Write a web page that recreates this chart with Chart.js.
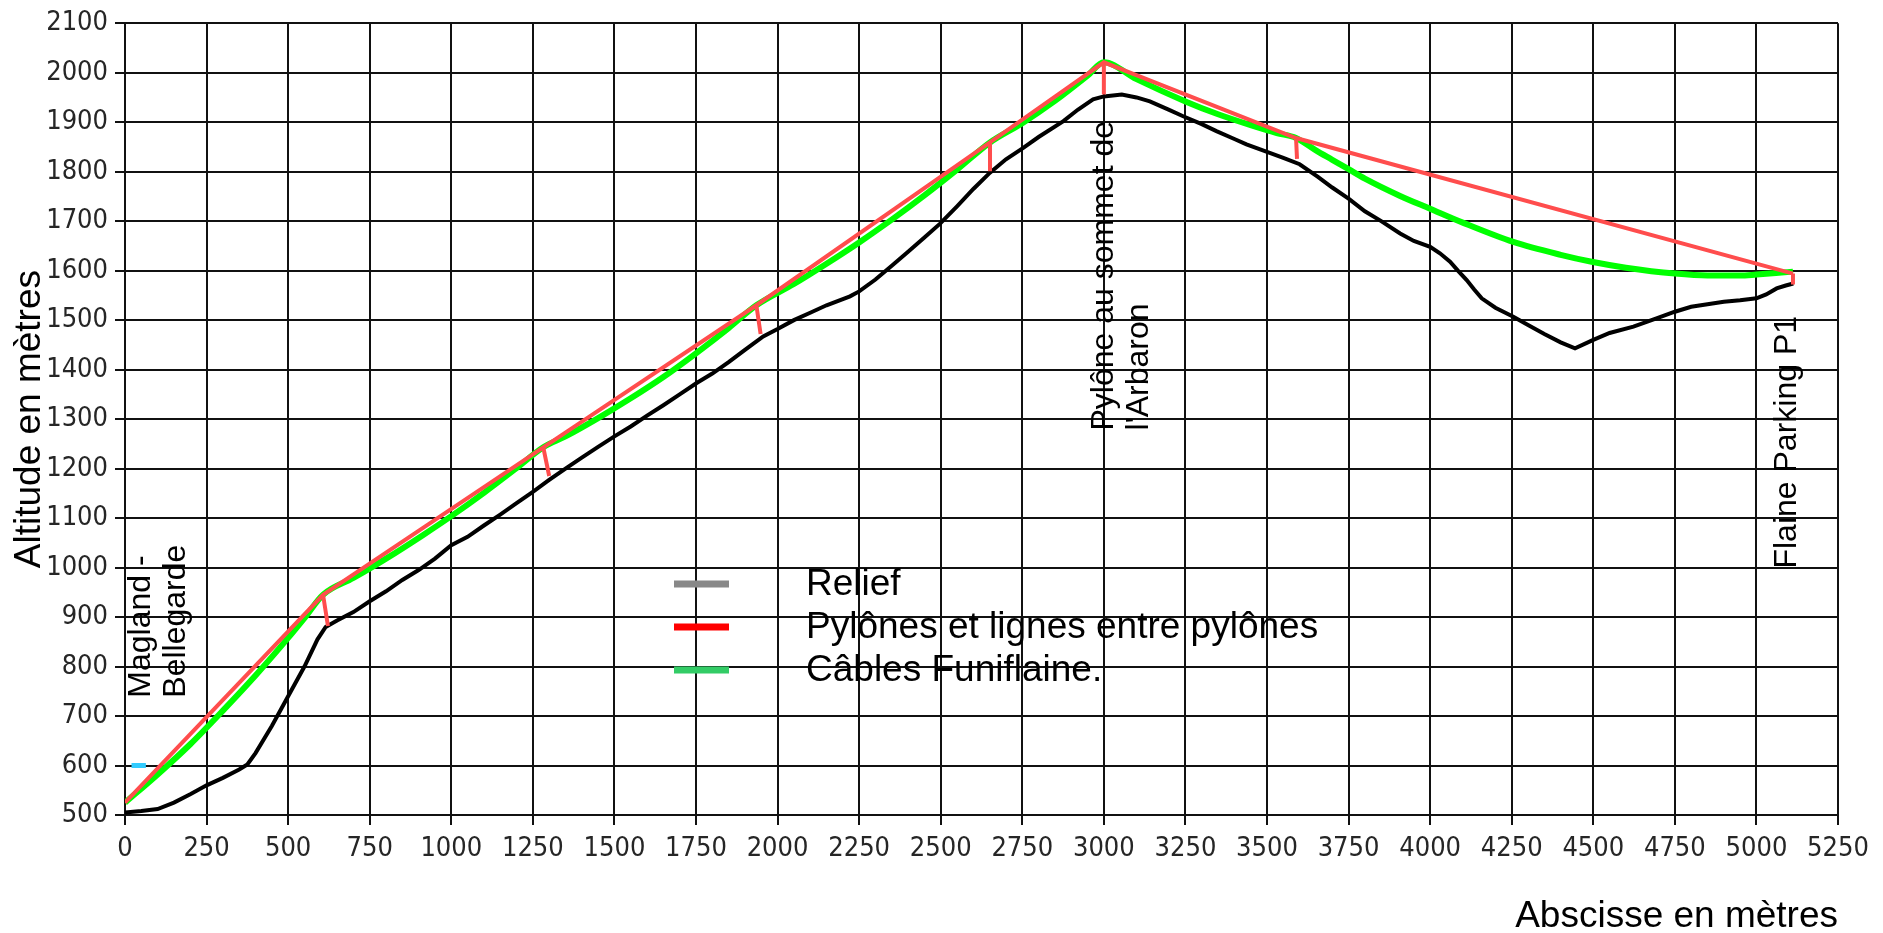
<!DOCTYPE html>
<html>
<head>
<meta charset="utf-8">
<script src="https://cdn.jsdelivr.net/npm/chart.js@4.4.1/dist/chart.umd.min.js"></script>
<style>
  html, body { margin: 0; padding: 0; background: #fff; }
  #wrap { width: 1883px; height: 933px; position: relative; }
</style>
</head>
<body>
<div id="wrap"><canvas id="profileChart"></canvas></div>
<script>
// Relief (ground profile), abscissa in metres / altitude in metres
const reliefX = [0, 50, 100, 150, 200, 250, 300, 350, 375, 400, 450, 500, 550, 590, 615, 650, 700, 750, 800, 850,
  900, 950, 1000, 1050, 1100, 1150, 1200, 1250, 1300, 1350, 1400, 1450, 1500, 1550, 1600, 1650, 1700, 1752, 1800, 1850,
  1900, 1956, 2000, 2050, 2100, 2150, 2222, 2250, 2300, 2350, 2400, 2450, 2498, 2550, 2600, 2651, 2700, 2753, 2800, 2876,
  2920, 2967, 3000, 3055, 3100, 3141, 3200, 3243, 3300, 3345, 3400, 3437, 3500, 3550, 3600, 3655, 3700, 3751, 3800, 3850,
  3908, 3950, 4000, 4030, 4061, 4085, 4112, 4135, 4158, 4200, 4255, 4300, 4350, 4400, 4444, 4500, 4550, 4623, 4700, 4750,
  4800, 4850, 4900, 4950, 5000, 5030, 5062, 5090, 5113];
const reliefAlt = [505, 508, 512, 525, 542, 560, 575, 592, 602, 625, 680, 740, 800, 855, 880, 893, 910, 932, 952, 975,
  995, 1018, 1045, 1062, 1085, 1107, 1130, 1153, 1177, 1200, 1222, 1244, 1265, 1285, 1307, 1328, 1350, 1373, 1392, 1415,
  1440, 1467, 1482, 1500, 1515, 1530, 1548, 1558, 1582, 1610, 1638, 1667, 1695, 1730, 1765, 1798, 1825, 1848, 1870, 1902,
  1925, 1946, 1952, 1956, 1950, 1942, 1925, 1912, 1896, 1882, 1866, 1855, 1840, 1828, 1815, 1790, 1768, 1745, 1720, 1700,
  1675, 1660, 1648, 1635, 1618, 1600, 1581, 1562, 1544, 1525, 1507, 1490, 1472, 1455, 1443, 1460, 1474, 1487, 1505, 1517,
  1527, 1532, 1537, 1540, 1544, 1552, 1564, 1570, 1574];

// Funiflaine cables (sagging between pylons)
const cableX = [0, 100, 200, 300, 400, 500, 550, 607, 700, 800, 914, 1000, 1100, 1200, 1282, 1350, 1450, 1550, 1650, 1750,
  1850, 1935, 2050, 2150, 2250, 2350, 2450, 2550, 2651, 2750, 2850, 2950, 3000, 3100, 3250, 3350, 3450, 3530, 3589, 3650,
  3700, 3750, 3800, 3908, 4000, 4100, 4255, 4400, 4495, 4600, 4750, 4850, 4950, 5000, 5060, 5112];
const cableAlt = [525, 582, 643, 711, 782, 858, 898, 945, 979, 1018, 1066, 1104, 1151, 1201, 1243, 1265, 1302, 1342, 1385, 1433,
  1484, 1530, 1573, 1614, 1657, 1703, 1752, 1804, 1859, 1898, 1943, 1994, 2021, 1987, 1942, 1916, 1894, 1878, 1868, 1843,
  1824, 1805, 1786, 1751, 1725, 1697, 1658, 1632, 1618, 1606, 1594, 1590, 1590, 1592, 1595, 1598];

// Pylon tops joined by straight lines, and pylon feet
const towerX = [0, 607, 1282, 1935, 2651, 3000, 3589, 5112];
const towerAlt = [525, 945, 1243, 1530, 1859, 2021, 1868, 1594];
const footX = [622, 1300, 1948, 2651, 3000, 3592, 5112];
const footAlt = [882, 1185, 1472, 1801, 1956, 1826, 1572];

// small cyan mark at the lower station
const stationX = [20, 64];
const stationAlt = [600, 600];

const legendLabels = ['Relief', 'Pylônes et lignes entre pylônes', 'Câbles Funiflaine.'];
const legendColors = ['#888888', '#ff0000', '#33cc66'];

const placeNames = [['Magland -', 'Bellegarde'], ['Pylône au sommet de', "l'Arbaron"], ['Flaine Parking P1']];
const placeX = [49, 3000, 5095];
const placeAlt = [737, 1277, 998];

const toPoints = (xs, ys) => xs.map((x, i) => ({ x: x, y: ys[i] }));

// pylon segments, separated by gaps
const pylonPoints = [];
footX.forEach((fx, i) => {
  pylonPoints.push({ x: towerX[i + 1], y: towerAlt[i + 1] });
  pylonPoints.push({ x: fx, y: footAlt[i] });
  pylonPoints.push({ x: fx, y: null });
});

const annotations = {
  id: 'annotations',
  afterDraw(chart) {
    const ctx = chart.ctx;
    const xs = chart.scales.x;
    const ys = chart.scales.y;
    ctx.save();

    // place names, rotated
    ctx.fillStyle = '#000';
    ctx.font = '32px "Liberation Sans", Arial, sans-serif';
    ctx.textAlign = 'left';
    ctx.textBaseline = 'middle';
    placeNames.forEach((lines, i) => {
      const px = xs.getPixelForValue(placeX[i]);
      const py = ys.getPixelForValue(placeAlt[i]);
      lines.forEach((txt, j) => {
        ctx.save();
        ctx.translate(px + j * 35, py);
        ctx.rotate(-Math.PI / 2);
        ctx.fillText(txt, 0, 0);
        ctx.restore();
      });
    });

    // legend inside the plot
    ctx.font = '37px "Liberation Sans", Arial, sans-serif';
    legendLabels.forEach((label, i) => {
      const y = 584 + i * 43;
      ctx.strokeStyle = legendColors[i];
      ctx.lineWidth = 7;
      ctx.beginPath();
      ctx.moveTo(674, y);
      ctx.lineTo(729, y);
      ctx.stroke();
      ctx.fillStyle = '#000';
      ctx.fillText(label, 806, y + 1);
    });
    ctx.restore();
  }
};

const gridColor = '#111111';
const tickFont = { family: '"DejaVu Sans Condensed", "DejaVu Sans", sans-serif', size: 27 };
const titleFont = { family: '"Liberation Sans", Arial, sans-serif', size: 37 };
const plainNumber = (v) => String(v);

new Chart(document.getElementById('profileChart'), {
  type: 'scatter',
  data: {
    datasets: [
      {
        label: 'Pylônes',
        data: pylonPoints,
        showLine: true,
        borderColor: '#ff4d4d',
        borderWidth: 4,
        pointRadius: 0,
        spanGaps: false
      },
      {
        label: 'Pylônes et lignes entre pylônes',
        data: toPoints(towerX, towerAlt),
        showLine: true,
        borderColor: '#ff4d4d',
        borderWidth: 4,
        pointRadius: 0
      },
      {
        label: 'Câbles Funiflaine.',
        data: toPoints(cableX, cableAlt),
        showLine: true,
        borderColor: '#00ff00',
        borderWidth: 6,
        pointRadius: 0,
        cubicInterpolationMode: 'monotone'
      },
      {
        label: 'Station',
        data: toPoints(stationX, stationAlt),
        showLine: true,
        borderColor: '#33ccff',
        borderWidth: 5,
        pointRadius: 0
      },
      {
        label: 'Relief',
        data: toPoints(reliefX, reliefAlt),
        showLine: true,
        borderColor: '#000000',
        borderWidth: 4,
        pointRadius: 0
      }
    ]
  },
  options: {
    responsive: true,
    maintainAspectRatio: false,
    animation: false,
    layout: { padding: { top: 17, right: 45, left: 0, bottom: 0 } },
    plugins: {
      legend: { display: false },
      tooltip: { enabled: false }
    },
    scales: {
      x: {
        type: 'linear',
        min: 0,
        max: 5250,
        afterFit: (scale) => { scale.height = 118; },
        ticks: { stepSize: 250, autoSkip: false, maxRotation: 0, padding: 8, font: tickFont, color: '#262626', callback: plainNumber },
        grid: { color: gridColor, lineWidth: 2, tickLength: 10 },
        border: { display: true, color: gridColor, width: 2 },
        title: {
          display: true,
          text: 'Abscisse en mètres',
          align: 'end',
          color: '#000',
          font: Object.assign({ lineHeight: 0.9 }, titleFont),
          padding: 0
        }
      },
      y: {
        type: 'linear',
        min: 500,
        max: 2100,
        afterFit: (scale) => { scale.width = 125; },
        ticks: { stepSize: 100, autoSkip: false, padding: 7, font: tickFont, color: '#262626', callback: plainNumber },
        grid: { color: gridColor, lineWidth: 2, tickLength: 10 },
        border: { display: true, color: gridColor, width: 2 },
        title: {
          display: true,
          text: 'Altitude en mètres',
          color: '#000',
          font: Object.assign({ lineHeight: 1.2 }, titleFont),
          padding: { top: 8, bottom: 0 }
        }
      }
    }
  },
  plugins: [annotations]
});
</script>
</body>
</html>
